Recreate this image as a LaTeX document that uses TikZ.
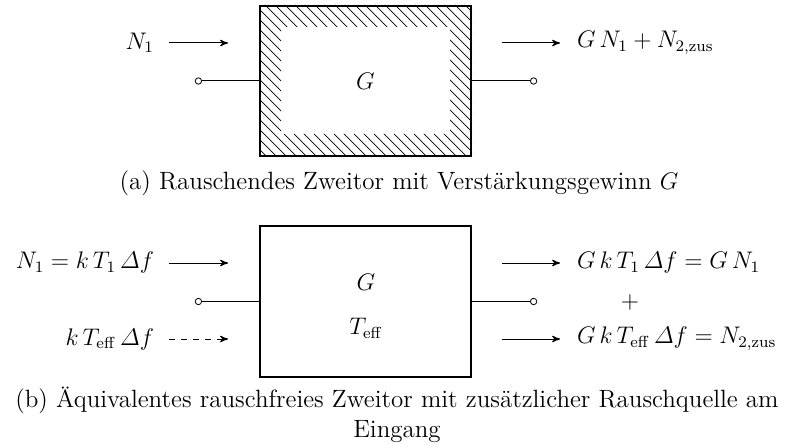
\documentclass[tikz,border=0pt]{standalone}
\usepackage{amsmath}
\usetikzlibrary{arrows,positioning}

\tikzset{
  every node/.append style={font=\fontsize{12}{15}\selectfont},
  zweitor/.style={draw,line width=1pt,minimum width=105.5pt,minimum height=75pt,inner sep=0pt},
  klemme/.style={draw,circle,fill=white,inner sep=0pt,minimum size=3.2pt},
  leitung/.style={line width=0.5pt},
  hatch/.style={line width=0.35pt},
  bildtext/.style={font=\fontsize{12.5}{15}\selectfont,align=center},
}

\begin{document}
\begin{tikzpicture}[>=stealth',x=0.5pt,y=-0.5pt,auto]

                \useasboundingbox (0,0) rectangle (790,448);

                % (a) rauschendes Zweitor
                \node[zweitor] (tora) at (365.5,81) {$G$};

                \begin{scope}[even odd rule]
                  \clip (tora.north west) rectangle (tora.south east)
                    ([shift={(22,22)}]tora.north west) rectangle ([shift={(-22,-23)}]tora.south east);
                  \foreach \x in {100,110,...,480}
                    \draw[hatch] (\x,0) -- ++(165,165);
                \end{scope}
                \node[zweitor] at (tora) {};

                \node[klemme] (ina) [left=28.5pt of tora] {};
                \node[klemme] (outa) [right=29pt of tora] {};
                \draw[leitung] (ina) -- (tora) -- (outa);

                \coordinate (pina1) at (169,43);
                \coordinate (pina2) at (228,43);
                \coordinate (pouta1) at (502,43);
                \coordinate (pouta2) at (560,43);
                \node (na) [left=4pt of pina1] {$N_1$};
                \node (ga) [right=5pt of pouta2] {$G\,N_1 + N_{2,\mathrm{zus}}$};
                \path[->,leitung] (pina1) edge (pina2)
                                  (pouta1) edge (pouta2);

                \node[bildtext] (capa) at (399,183) {(a) Rauschendes Zweitor mit Verst\"arkungsgewinn $G$};

                % (b) rauschfreies Zweitor
                \node[zweitor] (torb) at (365.5,301.5) {};
                \node (gb) at (366,282) {$G$};
                \node (tb) at (366,328) {$T_{\mathrm{eff}}$};

                \node[klemme] (inb) [left=28.5pt of torb] {};
                \node[klemme] (outb) [right=29pt of torb] {};
                \draw[leitung] (inb) -- (torb) -- (outb);

                \coordinate (pinb1) at (169,263);
                \coordinate (pinb2) at (228,263);
                \coordinate (pinc1) at (169,339);
                \coordinate (pinc2) at (228,339);
                \coordinate (poutb1) at (502,263);
                \coordinate (poutb2) at (560,263);
                \coordinate (poutc1) at (502,339);
                \coordinate (poutc2) at (560,339);

                \node (nb) [left=4pt of pinb1] {$N_1 = k\,T_1\,\varDelta f$};
                \node (nc) [left=4pt of pinc1] {$k\,T_{\mathrm{eff}}\,\varDelta f$};
                \node (gb1) [right=5pt of poutb2] {$G\,k\,T_1\,\varDelta f = G\,N_1$};
                \node (gb2) [right=5pt of poutc2] {$G\,k\,T_{\mathrm{eff}}\,\varDelta f = N_{2,\mathrm{zus}}$};
                \node (plus) at (630,302) {$+$};

                \path[->,leitung] (pinb1) edge (pinb2)
                                  (pinc1) edge[dashed] (pinc2)
                                  (poutb1) edge (poutb2)
                                  (poutc1) edge (poutc2);

                \node[bildtext] (capb) at (397,415)
                  {(b) \"Aquivalentes rauschfreies Zweitor mit zus\"atzlicher Rauschquelle am\\Eingang};

            \end{tikzpicture}
\end{document}
